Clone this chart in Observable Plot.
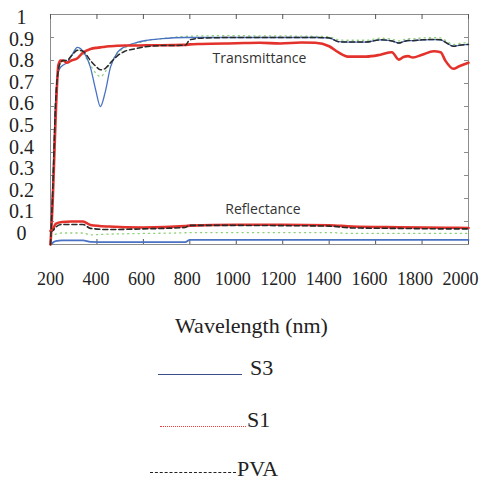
<!DOCTYPE html>
<html><head><meta charset="utf-8">
<script src="https://cdn.jsdelivr.net/npm/d3@7"></script>
<script src="https://cdn.jsdelivr.net/npm/@observablehq/plot@0.6"></script>
<style>
body{margin:0;background:#fff;}
#wrap{position:relative;width:480px;height:483px;overflow:hidden;background:#fff;}
#wrap svg{position:absolute;left:0;top:0;}
.leg{position:absolute;font-family:"Liberation Serif","Times New Roman",serif;font-size:22px;color:#222;white-space:nowrap;line-height:22px;}
.ln{display:inline-block;height:0;vertical-align:baseline;}
</style></head><body><div id="wrap"></div>
<script>
// ---- Transmittance (wavelength grid, nm) ----
const tWave = [200, 210, 222, 234, 243, 255, 270, 290, 316, 340, 372, 395, 415, 435, 458, 488, 520, 560, 610, 680, 780, 800, 850, 1000, 1100, 1190, 1280, 1340, 1400, 1440, 1480, 1560, 1620, 1670, 1700, 1720, 1740, 1760, 1800, 1850, 1880, 1900, 1935, 1960, 2000];
const s3T  = [0.0, 0.25, 0.62, 0.75, 0.77, 0.78, 0.79, 0.82, 0.857, 0.84, 0.77, 0.67, 0.60, 0.66, 0.77, 0.835, 0.86, 0.875, 0.887, 0.895, 0.9, 0.9, 0.9, 0.9, 0.9, 0.9, 0.9, 0.9, 0.898, 0.882, 0.88, 0.88, 0.89, 0.885, 0.876, 0.882, 0.887, 0.886, 0.89, 0.891, 0.89, 0.88, 0.862, 0.866, 0.87];
const s1T  = [0.0, 0.2, 0.55, 0.78, 0.8, 0.8, 0.79, 0.8, 0.81, 0.835, 0.85, 0.855, 0.857, 0.86, 0.862, 0.864, 0.865, 0.865, 0.866, 0.866, 0.868, 0.87, 0.872, 0.875, 0.877, 0.874, 0.878, 0.877, 0.862, 0.835, 0.817, 0.817, 0.825, 0.836, 0.804, 0.815, 0.819, 0.813, 0.825, 0.84, 0.836, 0.8, 0.764, 0.775, 0.79];
const pvaT = [0.0, 0.25, 0.62, 0.76, 0.79, 0.8, 0.8, 0.82, 0.845, 0.84, 0.8, 0.775, 0.76, 0.765, 0.79, 0.82, 0.84, 0.85, 0.86, 0.865, 0.866, 0.89, 0.897, 0.9, 0.9, 0.9, 0.9, 0.9, 0.898, 0.882, 0.88, 0.88, 0.89, 0.885, 0.876, 0.882, 0.887, 0.886, 0.89, 0.891, 0.89, 0.88, 0.862, 0.866, 0.87];
const s2T  = [0.0, 0.25, 0.62, 0.76, 0.79, 0.8, 0.8, 0.82, 0.85, 0.83, 0.78, 0.745, 0.73, 0.75, 0.79, 0.83, 0.855, 0.87, 0.885, 0.895, 0.905, 0.906, 0.907, 0.908, 0.907, 0.907, 0.906, 0.905, 0.903, 0.89, 0.888, 0.888, 0.897, 0.893, 0.885, 0.89, 0.895, 0.894, 0.898, 0.899, 0.898, 0.888, 0.87, 0.874, 0.878];

// ---- Reflectance ----
const rWave = [200, 210, 222, 250, 290, 340, 372, 450, 600, 780, 800, 1000, 1200, 1400, 1500, 1700, 1900, 2000];
const s1R  = [0.06, 0.065, 0.09, 0.098, 0.1, 0.1, 0.085, 0.078, 0.074, 0.08, 0.082, 0.086, 0.086, 0.084, 0.078, 0.075, 0.073, 0.072];
const pvaR = [0.055, 0.06, 0.075, 0.087, 0.087, 0.087, 0.07, 0.065, 0.068, 0.074, 0.083, 0.083, 0.082, 0.08, 0.072, 0.07, 0.068, 0.068];
const s2R  = [0.035, 0.04, 0.045, 0.05, 0.05, 0.05, 0.042, 0.045, 0.048, 0.051, 0.052, 0.052, 0.052, 0.052, 0.048, 0.048, 0.048, 0.048];
const s3R  = [0.0, 0.008, 0.015, 0.018, 0.018, 0.018, 0.011, 0.01, 0.01, 0.01, 0.02, 0.02, 0.02, 0.02, 0.02, 0.02, 0.02, 0.02];

// ---- Axes / labels ----
const xTicks = [200, 400, 600, 800, 1000, 1200, 1400, 1600, 1800, 2000];
const yTicks = [0, 0.1, 0.2, 0.3, 0.4, 0.5, 0.6, 0.7, 0.8, 0.9, 1];
const xTitle = "Wavelength (nm)";
const annotations = [
  {text: "Transmittance", wavelength: 1100, value: 0.81},
  {text: "Reflectance", wavelength: 1115, value: 0.152}
];
const legendNames = ["S3", "S1", "PVA"];

const rows = (wave, vals) => wave.map((w, i) => ({w, v: vals[i]}));
const serif = "'Liberation Serif','Times New Roman',serif";
const tickGray = "#8c8c8c";

// main chart: frame, inner ticks, curves, annotations, axis title
const chart = Plot.plot({
  width: 480, height: 345,
  marginLeft: 50, marginRight: 12, marginTop: 14, marginBottom: 101,
  x: {domain: [200, 2000], axis: null},
  y: {domain: [0, 1], axis: null},
  style: {background: "transparent"},
  marks: [
    Plot.frame({stroke: tickGray}),
    Plot.ruleY(yTicks, {y: d => d, stroke: tickGray, insetRight: 414}),
    Plot.ruleY(yTicks, {y: d => d, stroke: tickGray, insetLeft: 414}),
    Plot.ruleX(xTicks, {x: d => d, stroke: "#555", insetTop: 225}),
    Plot.ruleX(xTicks, {x: d => d, stroke: "#555", insetBottom: 225}),
    Plot.text([xTitle], {frameAnchor: "bottom", dy: 88, dx: -8, text: d => d, fontSize: 22, fontFamily: serif, fill: "#222"}),
    // reflectance curves
    Plot.line(rows(rWave, s3R), {x: "w", y: "v", stroke: "#4a72c4", strokeWidth: 1.8, curve: "monotone-x"}),
    Plot.line(rows(rWave, s2R), {x: "w", y: "v", stroke: "#8fd07a", strokeWidth: 1.3, strokeDasharray: "1.2,4", curve: "monotone-x"}),
    Plot.line(rows(rWave, s1R), {x: "w", y: "v", stroke: "#e3312b", strokeWidth: 2.6, curve: "monotone-x"}),
    Plot.line(rows(rWave, pvaR), {x: "w", y: "v", stroke: "#2a2a2a", strokeWidth: 1.6, strokeDasharray: "5,3", curve: "monotone-x"}),
    // transmittance curves
    Plot.line(rows(tWave, s2T), {x: "w", y: "v", stroke: "#8fd07a", strokeWidth: 1.3, strokeDasharray: "1.2,4", curve: "monotone-x"}),
    Plot.line(rows(tWave, s3T), {x: "w", y: "v", stroke: "#4a72c4", strokeWidth: 1.3, curve: "monotone-x"}),
    Plot.line(rows(tWave, s1T), {x: "w", y: "v", stroke: "#e3312b", strokeWidth: 2.6, curve: "monotone-x"}),
    Plot.line(rows(tWave, pvaT), {x: "w", y: "v", stroke: "#2a2a2a", strokeWidth: 1.5, strokeDasharray: "5,3", curve: "monotone-x"}),
    Plot.text(annotations, {x: "wavelength", y: "value", text: "text", fontSize: 14,
      fontFamily: "'Open Sans','Liberation Sans',sans-serif", fill: "#333"})
  ]
});

// tick-label layers (the original's labels sit on a slightly compressed grid)
const yLabels = Plot.plot({
  width: 60, height: 250,
  marginLeft: 50, marginRight: 10, marginTop: 17, marginBottom: 17,
  y: {domain: [0, 1]},
  style: {background: "transparent"},
  marks: [
    Plot.axisY(yTicks, {anchor: "left", tickSize: 0, tickPadding: 29, textAnchor: "middle",
      fontSize: 20, fontFamily: serif, fill: "#222", tickFormat: d => String(d), label: null})
  ]
});
const xLabels = Plot.plot({
  width: 480, height: 300,
  marginLeft: 50, marginRight: 20, marginTop: 10, marginBottom: 30,
  x: {domain: [200, 2000]},
  style: {background: "transparent"},
  marks: [
    Plot.axisX(xTicks, {anchor: "bottom", tickSize: 0, tickPadding: 2, fontSize: 18, fontFamily: serif,
      fill: "#222", tickFormat: d => String(d), label: null})
  ]
});

const wrap = document.getElementById("wrap");
wrap.appendChild(chart);
wrap.appendChild(yLabels);
wrap.appendChild(xLabels);

// legend (below the chart)
const legendStyles = [
  {top: 357, left: 158, w: 84, border: "1.4px solid #3a4c8e", gap: 8, va: "0px"},
  {top: 409, left: 160, w: 86, border: "1.2px dotted #f03a3a", gap: 1, va: "0px"},
  {top: 458, left: 150, w: 86, border: "1.3px dashed #222", gap: 1, va: "3px"}
];
legendNames.forEach((name, i) => {
  const s = legendStyles[i];
  const d = document.createElement("div");
  d.className = "leg";
  d.style.top = s.top + "px";
  d.style.left = s.left + "px";
  const ln = document.createElement("span");
  ln.className = "ln";
  ln.style.width = s.w + "px";
  ln.style.borderBottom = s.border;
  ln.style.marginRight = s.gap + "px";
  ln.style.verticalAlign = s.va;
  d.appendChild(ln);
  d.appendChild(document.createTextNode(name));
  wrap.appendChild(d);
});
</script>
</body></html>
